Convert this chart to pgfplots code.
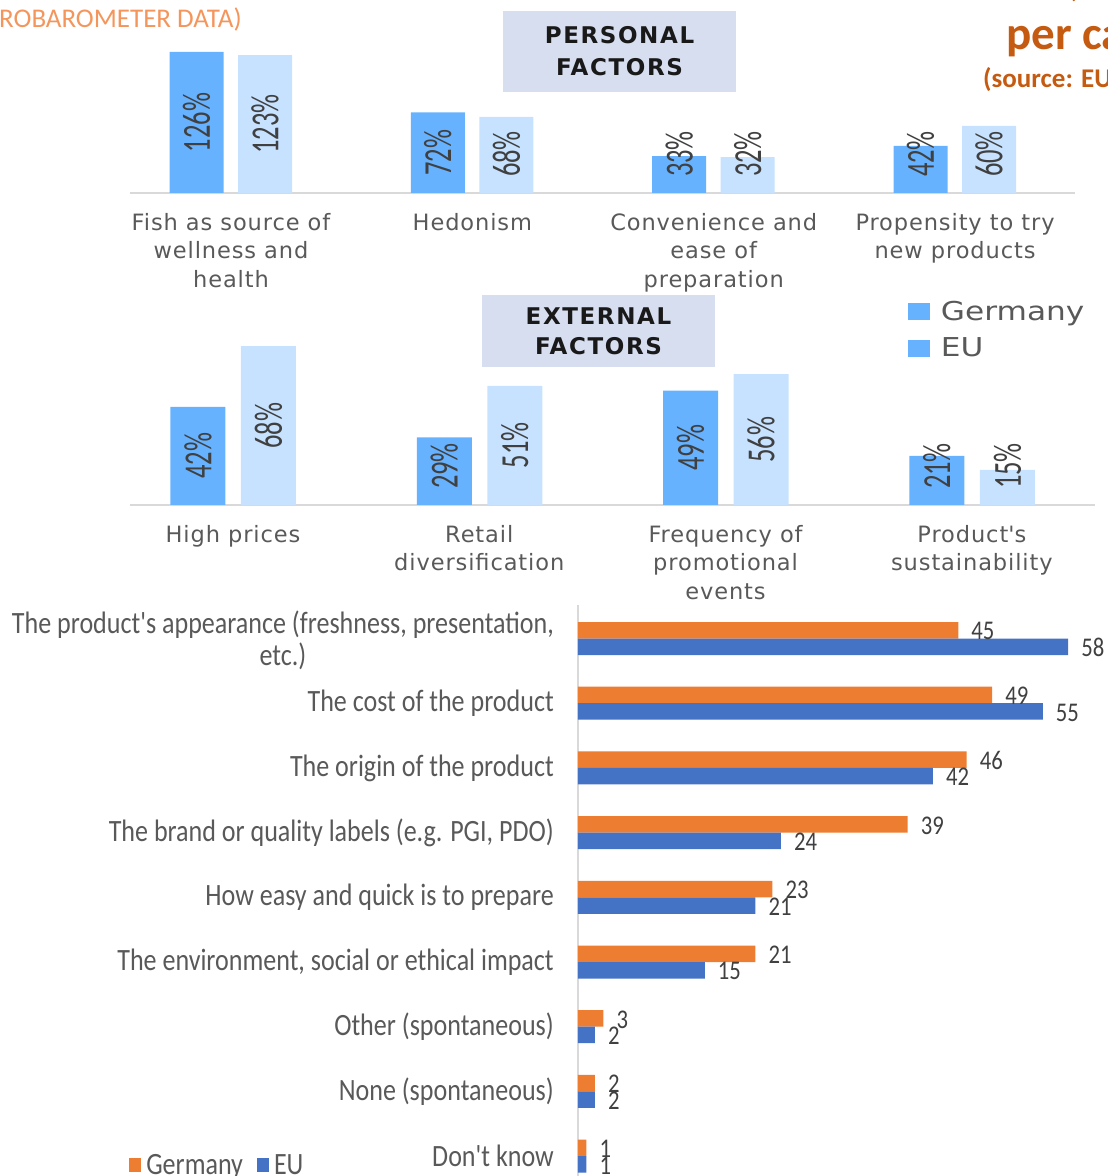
\documentclass[border=0pt]{standalone}
\usepackage{fontspec}
\setmainfont{Carlito}
\newfontfamily\dvcat[LetterSpace=4]{DejaVu Sans}
\newfontfamily\dvbox[LetterSpace=7]{DejaVu Sans}
\newfontfamily\dvleg{DejaVu Sans}
\usepackage{graphicx}
\usepackage{pgfplots}
\usepackage{pgfplotstable}
\pgfplotsset{compat=1.18}
\pgfkeys{/pgf/number format/assume math mode=true}

\definecolor{germ}{HTML}{66B2FF}
\definecolor{eul}{HTML}{C6E2FF}
\definecolor{boxc}{HTML}{D6DEF0}
\definecolor{orng}{HTML}{ED7D31}
\definecolor{blu}{HTML}{4472C4}
\definecolor{ttlL}{HTML}{F4965C}
\definecolor{ttlD}{HTML}{C55A11}
\definecolor{catc}{HTML}{595959}
\definecolor{valc}{HTML}{404040}
\definecolor{axisc}{HTML}{D9D9D9}

\newcommand{\sq}[1]{\scalebox{0.84}[1]{#1}}
\newcommand{\ap}{\textquotesingle}

\pgfplotstableread{
x g eu
0 126 123
1 72 68
2 33 32
3 42 60
}\personal

\pgfplotstableread{
x g eu
0 42 68
1 29 51
2 49 56
3 21 15
}\external

\pgfplotstableread{
y g eu
8 45 58
7 49 55
6 46 42
5 39 24
4 23 21
3 21 15
2 3 2
1 2 2
0 1 1
}\drivers

\pgfplotsset{
  toppanel/.style={
    scale only axis, anchor=south west,
    ymin=0,
    axis x line=bottom, axis y line=none,
    x axis line style={-, draw=axisc, line width=1.5pt},
    xtick={0,1,2,3}, major tick length=0pt,
    xticklabel style={font=\fontsize{22.5}{28.5}\selectfont\dvcat, text=catc,
      align=center, anchor=north, inner sep=0pt, yshift=-20pt},
    ybar,
  },
  vlab/.style={
    point meta=y,
    visualization depends on=rawy\as\rawy,
    nodes near coords={\scalebox{1}[1.5]{\pgfmathprintnumber{\pgfplotspointmeta}\%}},
    nodes near coords style={font=\fontsize{26.5}{28}\selectfont, text=valc,
      inner sep=0pt, anchor=center,
      yshift={max(\rawy*#1/2,39)-\rawy*#1}, rotate=90},
  },
}

\begin{document}
\begin{tikzpicture}
\useasboundingbox (0,0) rectangle (1108pt,1176pt);
\clip (0,0) rectangle (1108pt,1176pt);

% titles cut by the frame
\node[anchor=base east, inner sep=0pt, text=ttlL, font=\fontsize{27}{30}\selectfont]
  at (242pt,1148pt) {(EUROBAROMETER DATA)};
\node[anchor=base east, inner sep=0pt, text=ttlD, font=\fontsize{40}{40}\selectfont\bfseries]
  at (1081pt,1179pt) {,};
\node[anchor=base west, inner sep=0pt, text=ttlD, font=\fontsize{47}{48}\selectfont\bfseries]
  at (1006pt,1126pt) {per capita};
\node[anchor=base west, inner sep=0pt, text=ttlD, font=\fontsize{27}{30}\selectfont\bfseries]
  at (983pt,1088pt) {(source: EUMOFA)};

% section boxes
\node[fill=boxc, minimum width=233pt, minimum height=81pt, align=center, inner sep=0pt,
  text=black!90, font=\fontsize{23}{32}\selectfont\dvbox\bfseries]
  at (619.5pt,1124.5pt) {PERSONAL\\FACTORS};
\node[fill=boxc, minimum width=233pt, minimum height=72pt, align=center, inner sep=0pt,
  text=black!90, font=\fontsize{23}{30}\selectfont\dvbox\bfseries]
  at (598.5pt,845pt) {EXTERNAL\\FACTORS};

% personal factors
\begin{axis}[toppanel,
  at={(130pt,983pt)}, width=945pt, height=150pt,
  xmin=-0.4185, xmax=3.497, ymax=133.93,
  bar width=54pt,
  xticklabels={{Fish as source of\\wellness and\\health},{Hedonism},
    {Convenience and\\ease of\\preparation},{Propensity to try\\new products}},
]
\addplot[fill=germ, draw=none, bar shift=-34.5pt, vlab=1.12] table[x=x, y=g] {\personal};
\addplot[fill=eul, draw=none, bar shift=34pt, vlab=1.12] table[x=x, y=eu] {\personal};
\end{axis}

% external factors
\begin{axis}[toppanel,
  at={(130pt,671pt)}, width=965pt, height=170pt,
  xmin=-0.418, xmax=3.5, ymax=72.8,
  bar width=55pt,
  xticklabels={{High prices},{Retail\\diversification},
    {Frequency of\\promotional\\events},{Product\ap s\\sustainability}},
  legend cell align=left,
  legend style={at={(0.806,1.206)}, anchor=north west, draw=none, fill=none,
    inner sep=0pt, row sep=14pt, font=\fontsize{26}{28}\selectfont\dvleg, text=catc,
    nodes={inner sep=1pt}},
  legend image code/.code={\fill[germ] (0pt,-8.5pt) rectangle (22pt,8.5pt);},
]
\addplot[fill=germ, draw=none, bar shift=-35pt, vlab=2.335] table[x=x, y=g] {\external};
\addplot[fill=eul, draw=none, bar shift=35.5pt, vlab=2.335] table[x=x, y=eu] {\external};
\legend{\hspace{10pt}\scalebox{1.2}[1]{Germany}, \hspace{10pt}\scalebox{1.2}[1]{EU}}
\end{axis}

% drivers of purchase
\begin{axis}[
  at={(578pt,0pt)}, anchor=south west, scale only axis,
  width=530pt, height=571pt,
  xmin=0, xmax=62.72, ymin=-0.307, ymax=8.518,
  axis y line=left, axis x line=none,
  y axis line style={-, draw=axisc, line width=2pt},
  ytick={0,...,8}, major tick length=0pt,
  yticklabels={{\sq{Don\ap t know}},{\sq{None (spontaneous)}},{\sq{Other (spontaneous)}},
    {\sq{The environment, social or ethical impact}},{\sq{How easy and quick is to prepare}},
    {\sq{The brand or quality labels (e.g. PGI, PDO)}},{\sq{The origin of the product}},
    {\sq{The cost of the product}},
    {\raisebox{-4pt}[\height][\depth]{\sq{\begin{tabular}{@{}c@{}}The product\ap s appearance (freshness, presentation,\\etc.)\end{tabular}}}}},
  yticklabel style={font=\fontsize{31}{29}\selectfont, text=catc, anchor=east,
    inner sep=0pt, xshift=-24pt},
  xbar, bar width=16.5pt,
  nodes near coords={\sq{\pgfmathprintnumber{\pgfplotspointmeta}}},
  nodes near coords style={font=\fontsize{27}{28}\selectfont, text=valc, anchor=west,
    inner sep=0pt, xshift=13pt, yshift=-1pt},
  legend style={at={(-0.847,0.019)}, anchor=west, draw=none, fill=none, inner sep=0pt,
    font=\fontsize{31}{31}\selectfont, text=catc, legend columns=2,
    nodes={inner sep=1pt},
    /tikz/every even column/.append style={column sep=13pt}},
  legend image code/.code={\fill[#1] (0pt,-7pt) rectangle (12pt,7pt);},
]
\addplot[fill=orng, draw=none, bar shift=8.25pt] table[x=g, y=y] {\drivers};
\addplot[fill=blu, draw=none, bar shift=-8.25pt] table[x=eu, y=y] {\drivers};
\legend{\hspace{4pt}\sq{Germany}, \hspace{4pt}\sq{EU}}
\end{axis}
\end{tikzpicture}
\end{document}
